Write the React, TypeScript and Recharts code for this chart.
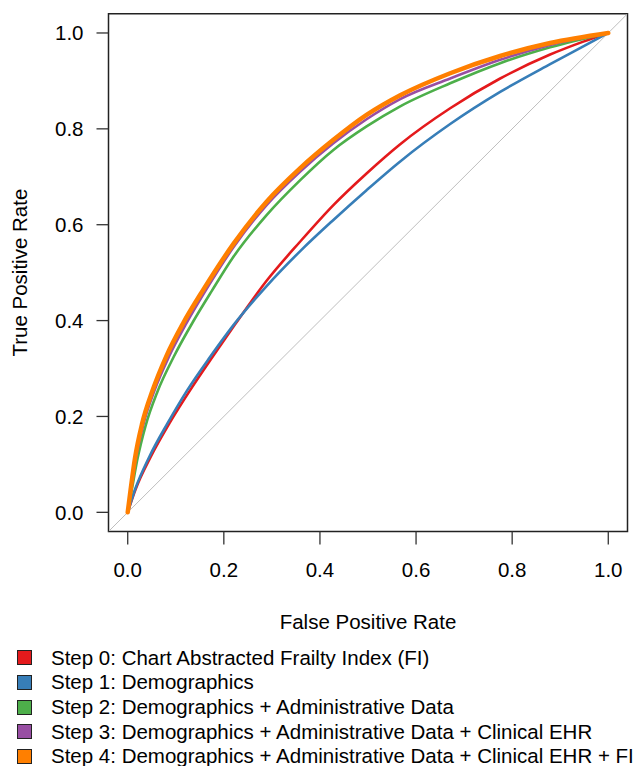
import React from 'react';
import { LineChart, Line, XAxis, YAxis, ReferenceArea } from 'recharts';

// ROC curves, one pair of arrays per model step
const step0Fpr = [0, 0.016, 0.048, 0.087, 0.13, 0.177, 0.222, 0.289, 0.359, 0.428, 0.497, 0.567, 0.671, 0.775, 0.879, 0.948, 1];
const step0Tpr = [0, 0.047, 0.116, 0.186, 0.255, 0.325, 0.39, 0.483, 0.565, 0.641, 0.707, 0.768, 0.843, 0.905, 0.955, 0.982, 1];

const step1Fpr = [0, 0.015, 0.045, 0.083, 0.124, 0.172, 0.218, 0.289, 0.359, 0.428, 0.497, 0.567, 0.671, 0.775, 0.879, 0.948, 1];
const step1Tpr = [0, 0.047, 0.116, 0.186, 0.255, 0.325, 0.388, 0.472, 0.545, 0.61, 0.672, 0.732, 0.81, 0.877, 0.935, 0.972, 1];

const step2Fpr = [0, 0.009, 0.02, 0.037, 0.062, 0.096, 0.135, 0.175, 0.22, 0.289, 0.359, 0.428, 0.497, 0.567, 0.671, 0.775, 0.879, 1];
const step2Tpr = [0, 0.05, 0.11, 0.18, 0.252, 0.325, 0.396, 0.462, 0.533, 0.62, 0.693, 0.756, 0.805, 0.847, 0.895, 0.937, 0.97, 1];

const step3Fpr = [0, 0.007, 0.017, 0.033, 0.056, 0.086, 0.122, 0.163, 0.22, 0.289, 0.359, 0.428, 0.497, 0.567, 0.671, 0.775, 0.879, 1];
const step3Tpr = [0, 0.047, 0.112, 0.185, 0.255, 0.325, 0.394, 0.464, 0.553, 0.641, 0.711, 0.77, 0.82, 0.862, 0.905, 0.944, 0.975, 1];

const step4Fpr = [0, 0.006, 0.015, 0.03, 0.052, 0.08, 0.115, 0.157, 0.22, 0.289, 0.359, 0.428, 0.497, 0.567, 0.671, 0.775, 0.879, 1];
const step4Tpr = [0, 0.047, 0.112, 0.185, 0.255, 0.325, 0.394, 0.464, 0.56, 0.648, 0.718, 0.777, 0.829, 0.87, 0.916, 0.952, 0.979, 1];

// chance line, across the whole padded panel
const diagFpr = [-0.04, 1.04];
const diagTpr = [-0.04, 1.04];

const stepNames = [
  'Step 0: Chart Abstracted Frailty Index (FI)',
  'Step 1: Demographics',
  'Step 2: Demographics + Administrative Data',
  'Step 3: Demographics + Administrative Data + Clinical EHR',
  'Step 4: Demographics + Administrative Data + Clinical EHR + FI',
];
const stepColors = ['#E41A1C', '#377EB8', '#4DAF4A', '#984EA3', '#FF7F00'];
const axisTicks = [0, 0.2, 0.4, 0.6, 0.8, 1];

const zip = (fpr: number[], tpr: number[]) => fpr.map((f, i) => ({ fpr: f, tpr: tpr[i] }));

const series = [
  zip(step0Fpr, step0Tpr),
  zip(step1Fpr, step1Tpr),
  zip(step2Fpr, step2Tpr),
  zip(step3Fpr, step3Tpr),
  zip(step4Fpr, step4Tpr),
];
const diagonal = zip(diagFpr, diagTpr);

const FONT = '"Liberation Sans", Arial, Helvetica, sans-serif';
const FS = 20.5;
const DOMAIN: [number, number] = [-0.04, 1.04];

export default function App() {
  return (
    <div style={{ position: 'absolute', left: 0, top: 0, width: 638, height: 766, background: '#fff', fontFamily: FONT }}>
      <LineChart width={638} height={766} margin={{ top: 13.8, right: 10.5, left: 0, bottom: 0 }}>
        <XAxis
          type="number"
          dataKey="fpr"
          domain={DOMAIN}
          ticks={axisTicks}
          allowDataOverflow
          height={234.5}
          axisLine={false}
          tickSize={13}
          tickMargin={18}
          tickLine={{ stroke: '#333', strokeWidth: 1.3 }}
          tick={{ fill: '#000', fontSize: FS, fontFamily: FONT }}
          tickFormatter={(v: number) => v.toFixed(1)}
          label={{
            content: (props: any) => {
              const vb = props.viewBox || {};
              return (
                <text x={vb.x + vb.width / 2} y={vb.y + 97} textAnchor="middle" fontSize={FS} fontFamily={FONT} fill="#000">
                  False Positive Rate
                </text>
              );
            },
          }}
        />
        <YAxis
          type="number"
          dataKey="tpr"
          domain={DOMAIN}
          ticks={axisTicks}
          allowDataOverflow
          width={108.5}
          axisLine={false}
          tickSize={12}
          tickMargin={13}
          tickLine={{ stroke: '#333', strokeWidth: 1.3 }}
          tick={{ fill: '#000', fontSize: FS, fontFamily: FONT }}
          tickFormatter={(v: number) => v.toFixed(1)}
          label={{
            content: (props: any) => {
              const vb = props.viewBox || {};
              const cx = vb.x + 20;
              const cy = vb.y + vb.height / 2;
              return (
                <text
                  x={cx}
                  y={cy}
                  transform={`rotate(-90 ${cx} ${cy})`}
                  textAnchor="middle"
                  dominantBaseline="central"
                  fontSize={FS}
                  fontFamily={FONT}
                  fill="#000"
                >
                  True Positive Rate
                </text>
              );
            },
          }}
        />
        <Line
          data={diagonal}
          dataKey="tpr"
          stroke="#bebebe"
          strokeWidth={1}
          dot={false}
          isAnimationActive={false}
        />
        {series.map((d, i) => (
          <Line
            key={stepNames[i]}
            type="monotone"
            data={d}
            dataKey="tpr"
            name={stepNames[i]}
            stroke={stepColors[i]}
            strokeWidth={i === 4 ? 4.5 : 2.6}
            strokeLinejoin="round"
            strokeLinecap="round"
            dot={false}
            isAnimationActive={false}
          />
        ))}
        <ReferenceArea x1={DOMAIN[0]} x2={DOMAIN[1]} y1={DOMAIN[0]} y2={DOMAIN[1]} fill="none" stroke="#222" strokeWidth={1.5} fillOpacity={0} />
      </LineChart>

      {/* legend below the plot, as in the original */}
      <div style={{ position: 'absolute', left: 0, top: 645.5, width: 638 }}>
        {stepNames.map((name, i) => (
          <div key={name} style={{ display: 'flex', alignItems: 'center', height: 24.7, whiteSpace: 'nowrap' }}>
            <span
              style={{
                display: 'inline-block',
                marginLeft: 17,
                width: 13,
                height: 13,
                background: stepColors[i],
                border: '1px solid #222',
              }}
            />
            <span style={{ marginLeft: 19, fontSize: FS, color: '#000', lineHeight: '24.7px' }}>{name}</span>
          </div>
        ))}
      </div>
    </div>
  );
}
